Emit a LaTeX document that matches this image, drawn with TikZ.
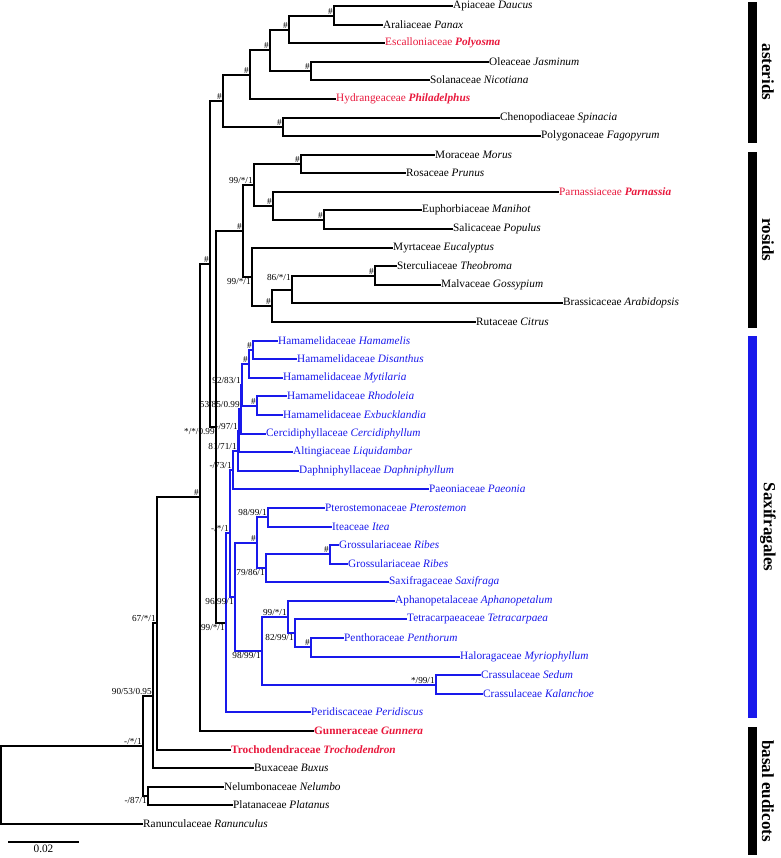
\documentclass[tikz,border=0pt]{standalone}
\usepackage{fontspec}
\setmainfont{Liberation Serif}
\usepackage{xcolor}
\definecolor{saxblue}{RGB}{25,25,235}
\definecolor{hlred}{RGB}{232,24,60}
\usepackage{tikz}
\usetikzlibrary{positioning}

\begin{document}
\begin{tikzpicture}[x=1pt, y=-1pt,
  taxon/.style={anchor=west, inner sep=1pt, font=\fontsize{11.3}{13}\selectfont},
  sax/.style={taxon, text=saxblue},
  hot/.style={taxon, text=hlred},
  br/.style={line width=2pt, line cap=rect},
  sbr/.style={br, saxblue},
  bs/.style={anchor=south east, inner sep=1.2pt, font=\fontsize{9.2}{10}\selectfont},
  bsb/.style={bs, anchor=north east},
  clade/.style={rotate=-90, inner sep=0pt, font=\fontsize{17}{19}\selectfont\bfseries}
]
  \useasboundingbox (0,0) rectangle (780,858);

  % taxa
  \node[taxon] (daucus)         at (452,6)   {Apiaceae \textit{Daucus}};
  \node[taxon] (panax)          at (382,25)  {Araliaceae \textit{Panax}};
  \node[hot]   (polyosma)       at (384,43)  {Escalloniaceae \textbf{\textit{Polyosma}}};
  \node[taxon] (jasminum)       at (488,62)  {Oleaceae \textit{Jasminum}};
  \node[taxon] (nicotiana)      at (429,80)  {Solanaceae \textit{Nicotiana}};
  \node[hot]   (philadelphus)   at (335,99)  {Hydrangeaceae \textbf{\textit{Philadelphus}}};
  \node[taxon] (spinacia)       at (499,118) {Chenopodiaceae \textit{Spinacia}};
  \node[taxon] (fagopyrum)      at (540,136) {Polygonaceae \textit{Fagopyrum}};
  \node[taxon] (morus)          at (434,155) {Moraceae \textit{Morus}};
  \node[taxon] (prunus)         at (405,173) {Rosaceae \textit{Prunus}};
  \node[hot]   (parnassia)      at (558,192) {Parnassiaceae \textbf{\textit{Parnassia}}};
  \node[taxon] (manihot)        at (421,210) {Euphorbiaceae \textit{Manihot}};
  \node[taxon] (populus)        at (452,229) {Salicaceae \textit{Populus}};
  \node[taxon] (eucalyptus)     at (392,248) {Myrtaceae \textit{Eucalyptus}};
  \node[taxon] (theobroma)      at (396,266) {Sterculiaceae \textit{Theobroma}};
  \node[taxon] (gossypium)      at (440,285) {Malvaceae \textit{Gossypium}};
  \node[taxon] (arabidopsis)    at (562,303) {Brassicaceae \textit{Arabidopsis}};
  \node[taxon] (citrus)         at (475,322) {Rutaceae \textit{Citrus}};
  \node[sax]   (hamamelis)      at (277,341) {Hamamelidaceae \textit{Hamamelis}};
  \node[sax]   (disanthus)      at (296,359) {Hamamelidaceae \textit{Disanthus}};
  \node[sax]   (mytilaria)      at (282,378) {Hamamelidaceae \textit{Mytilaria}};
  \node[sax]   (rhodoleia)      at (286,396) {Hamamelidaceae \textit{Rhodoleia}};
  \node[sax]   (exbucklandia)   at (282,415) {Hamamelidaceae \textit{Exbucklandia}};
  \node[sax]   (cercidiphyllum) at (265,434) {Cercidiphyllaceae \textit{Cercidiphyllum}};
  \node[sax]   (liquidambar)    at (292,452) {Altingiaceae \textit{Liquidambar}};
  \node[sax]   (daphniphyllum)  at (298,471) {Daphniphyllaceae \textit{Daphniphyllum}};
  \node[sax]   (paeonia)        at (428,489) {Paeoniaceae \textit{Paeonia}};
  \node[sax]   (pterostemon)    at (324,508) {Pterostemonaceae \textit{Pterostemon}};
  \node[sax]   (itea)           at (331,527) {Iteaceae \textit{Itea}};
  \node[sax]   (ribesa)         at (338,545) {Grossulariaceae \textit{Ribes}};
  \node[sax]   (ribesb)         at (347,564) {Grossulariaceae \textit{Ribes}};
  \node[sax]   (saxifraga)      at (388,582) {Saxifragaceae \textit{Saxifraga}};
  \node[sax]   (aphanopetalum)  at (394,601) {Aphanopetalaceae \textit{Aphanopetalum}};
  \node[sax]   (tetracarpaea)   at (406,619) {Tetracarpaeaceae \textit{Tetracarpaea}};
  \node[sax]   (penthorum)      at (343,638) {Penthoraceae \textit{Penthorum}};
  \node[sax]   (myriophyllum)   at (459,657) {Haloragaceae \textit{Myriophyllum}};
  \node[sax]   (sedum)          at (480,675) {Crassulaceae \textit{Sedum}};
  \node[sax]   (kalanchoe)      at (482,694) {Crassulaceae \textit{Kalanchoe}};
  \node[sax]   (peridiscus)     at (310,712) {Peridiscaceae \textit{Peridiscus}};
  \node[hot]   (gunnera)        at (313,731) {\textbf{Gunneraceae \textit{Gunnera}}};
  \node[hot]   (trochodendron)  at (230,750) {\textbf{Trochodendraceae \textit{Trochodendron}}};
  \node[taxon] (buxus)          at (253,768) {Buxaceae \textit{Buxus}};
  \node[taxon] (nelumbo)        at (223,787) {Nelumbonaceae \textit{Nelumbo}};
  \node[taxon] (platanus)       at (232,805) {Platanaceae \textit{Platanus}};
  \node[taxon] (ranunculus)     at (142,824) {Ranunculaceae \textit{Ranunculus}};

  % internal nodes
  \coordinate (a1) at (334,16);   \coordinate (a2) at (289,30);
  \coordinate (b1) at (311,71);   \coordinate (a3) at (270,50);
  \coordinate (a4) at (250,75);   \coordinate (c1) at (283,127);
  \coordinate (a5) at (223,101);
  \coordinate (r1) at (301,164);  \coordinate (r2) at (324,220);
  \coordinate (r3) at (273,206);  \coordinate (r4) at (254,185);
  \coordinate (r5) at (375,276);  \coordinate (r6) at (292,290);
  \coordinate (r7) at (272,306);  \coordinate (r8) at (252,277);
  \coordinate (r9) at (243,231);
  \coordinate (s1) at (253,350);  \coordinate (s2) at (249,364);
  \coordinate (s3) at (257,406);  \coordinate (s4) at (242,385);
  \coordinate (s5) at (241,409);  \coordinate (s6) at (239,431);
  \coordinate (s7) at (238,451);  \coordinate (s8) at (233,470);
  \coordinate (t1) at (268,517);  \coordinate (t2) at (330,554);
  \coordinate (t3) at (266,568);  \coordinate (t4) at (257,543);
  \coordinate (u1) at (311,647);  \coordinate (u2) at (295,633);
  \coordinate (u3) at (288,617);  \coordinate (u4) at (436,685);
  \coordinate (u5) at (262,651);  \coordinate (t5) at (235,597);
  \coordinate (s9) at (230,533);  \coordinate (s10) at (226,623);
  \coordinate (q)  at (216,427);  \coordinate (p1) at (210,264);
  \coordinate (p2) at (200,497);  \coordinate (p3) at (157,623);
  \coordinate (p4) at (153,696);  \coordinate (p5) at (148,796);
  \coordinate (p6) at (143,746);  \coordinate (root) at (1,785);

  % asterids
  \draw[br] (a1) |- (daucus.west) (a1) |- (panax.west);
  \draw[br] (a2) |- (a1) (a2) |- (polyosma.west);
  \draw[br] (b1) |- (jasminum.west) (b1) |- (nicotiana.west);
  \draw[br] (a3) |- (a2) (a3) |- (b1);
  \draw[br] (a4) |- (a3) (a4) |- (philadelphus.west);
  \draw[br] (c1) |- (spinacia.west) (c1) |- (fagopyrum.west);
  \draw[br] (a5) |- (a4) (a5) |- (c1);
  % rosids
  \draw[br] (r1) |- (morus.west) (r1) |- (prunus.west);
  \draw[br] (r2) |- (manihot.west) (r2) |- (populus.west);
  \draw[br] (r3) |- (parnassia.west) (r3) |- (r2);
  \draw[br] (r4) |- (r1) (r4) |- (r3);
  \draw[br] (r5) |- (theobroma.west) (r5) |- (gossypium.west);
  \draw[br] (r6) |- (r5) (r6) |- (arabidopsis.west);
  \draw[br] (r7) |- (r6) (r7) |- (citrus.west);
  \draw[br] (r8) |- (eucalyptus.west) (r8) |- (r7);
  \draw[br] (r9) |- (r4) (r9) |- (r8);
  % backbone
  \draw[br] (q) |- (r9) (q) |- (s10);
  \draw[br] (p1) |- (a5) (p1) |- (q);
  \draw[br] (p2) |- (p1) (p2) |- (gunnera.west);
  \draw[br] (p3) |- (p2) (p3) |- (trochodendron.west);
  \draw[br] (p4) |- (p3) (p4) |- (buxus.west);
  \draw[br] (p5) |- (nelumbo.west) (p5) |- (platanus.west);
  \draw[br] (p6) |- (p4) (p6) |- (p5);
  \draw[br] (root) |- (p6) (root) |- (ranunculus.west);
  % Saxifragales
  \draw[sbr] (s1) |- (hamamelis.west) (s1) |- (disanthus.west);
  \draw[sbr] (s2) |- (s1) (s2) |- (mytilaria.west);
  \draw[sbr] (s3) |- (rhodoleia.west) (s3) |- (exbucklandia.west);
  \draw[sbr] (s4) |- (s2) (s4) |- (s3);
  \draw[sbr] (s5) |- (s4) (s5) |- (cercidiphyllum.west);
  \draw[sbr] (s6) |- (s5) (s6) |- (liquidambar.west);
  \draw[sbr] (s7) |- (s6) (s7) |- (daphniphyllum.west);
  \draw[sbr] (s8) |- (s7) (s8) |- (paeonia.west);
  \draw[sbr] (t1) |- (pterostemon.west) (t1) |- (itea.west);
  \draw[sbr] (t2) |- (ribesa.west) (t2) |- (ribesb.west);
  \draw[sbr] (t3) |- (t2) (t3) |- (saxifraga.west);
  \draw[sbr] (t4) |- (t1) (t4) |- (t3);
  \draw[sbr] (u1) |- (penthorum.west) (u1) |- (myriophyllum.west);
  \draw[sbr] (u2) |- (tetracarpaea.west) (u2) |- (u1);
  \draw[sbr] (u3) |- (aphanopetalum.west) (u3) |- (u2);
  \draw[sbr] (u4) |- (sedum.west) (u4) |- (kalanchoe.west);
  \draw[sbr] (u5) |- (u3) (u5) |- (u4);
  \draw[sbr] (t5) |- (t4) (t5) |- (u5);
  \draw[sbr] (s9) |- (s8) (s9) |- (t5);
  \draw[sbr] (s10) |- (s9) (s10) |- (peridiscus.west);

  % support values
  \node[bs] (a1s) at (a1) {\#};  \node[bs] (a2s) at (a2) {\#};
  \node[bs] (b1s) at (b1) {\#};  \node[bs] (a3s) at (a3) {\#};
  \node[bs] (a4s) at (a4) {\#};  \node[bs] (c1s) at (c1) {\#};
  \node[bs] (a5s) at (a5) {\#};
  \node[bs] (r1s) at (r1) {\#};  \node[bs] (r2s) at (r2) {\#};
  \node[bs] (r3s) at (r3) {\#};  \node[bs] (r4s) at (r4) {99/*/1};
  \node[bs] (r5s) at (r5) {\#};  \node[bs, yshift=8pt] (r6s) at (r6) {86/*/1};
  \node[bs] (r7s) at (r7) {\#};  \node[bsb] (r8s) at (r8) {99/*/1};
  \node[bs] (r9s) at (r9) {\#};
  \node[bs] (s1s) at (s1) {\#};  \node[bs] (s2s) at (s2) {\#};
  \node[bs] (s3s) at (s3) {\#};  \node[bs] (s4s) at (s4) {92/83/1};
  \node[bs] (s5s) at (s5) {53/85/0.99};
  \node[bs] (s6s) at (s6) {-/97/1};
  \node[bs] (s7s) at (s7) {81/71/1};
  \node[bs] (s8s) at (s8) {-/73/1};
  \node[bs] (t1s) at (t1) {98/99/1};  \node[bs] (t2s) at (t2) {\#};
  \node[bsb] (t3s) at (t3) {79/86/1}; \node[bs] (t4s) at (t4) {\#};
  \node[bs] (u1s) at (u1) {\#};       \node[bsb] (u2s) at (u2) {82/99/1};
  \node[bs] (u3s) at (u3) {99/*/1};   \node[bs] (u4s) at (u4) {*/99/1};
  \node[bsb] (u5s) at (u5) {98/99/1}; \node[bsb] (t5s) at (t5) {96/99/1};
  \node[bs] (s9s) at (s9) {-/*/1};    \node[bsb] (s10s) at (s10) {99/*/1};
  \node[bsb] (qs) at (q) {*/*/0.99};  \node[bs] (p1s) at (p1) {\#};
  \node[bs] (p2s) at (p2) {\#};       \node[bs] (p3s) at (p3) {67/*/1};
  \node[bs] (p4s) at (p4) {90/53/0.95};
  \node[bsb] (p5s) at (p5) {-/87/1};  \node[bs] (p6s) at (p6) {-/*/1};

  % clade bars
  \fill (748,2) rectangle (757,143);
  \fill (748,152) rectangle (757,328);
  \fill[saxblue] (748,336) rectangle (757,718);
  \fill (748,727) rectangle (757,855);
  \node[clade] (asterids) at (768,72)  {asterids};
  \node[clade] (rosids)   at (768,240) {rosids};
  \node[clade] (saxif)    at (768,527) {Saxifragales};
  \node[clade] (basal)    at (768,791) {basal eudicots};

  % scale
  \coordinate (bar0) at (8,842);
  \coordinate (bar1) at (79,842);
  \draw[line width=1.4pt] (bar0) -- node[below=1pt, inner sep=1pt, font=\fontsize{11.3}{13}\selectfont] (scalelab) {0.02} (bar1);
\end{tikzpicture}
\end{document}
